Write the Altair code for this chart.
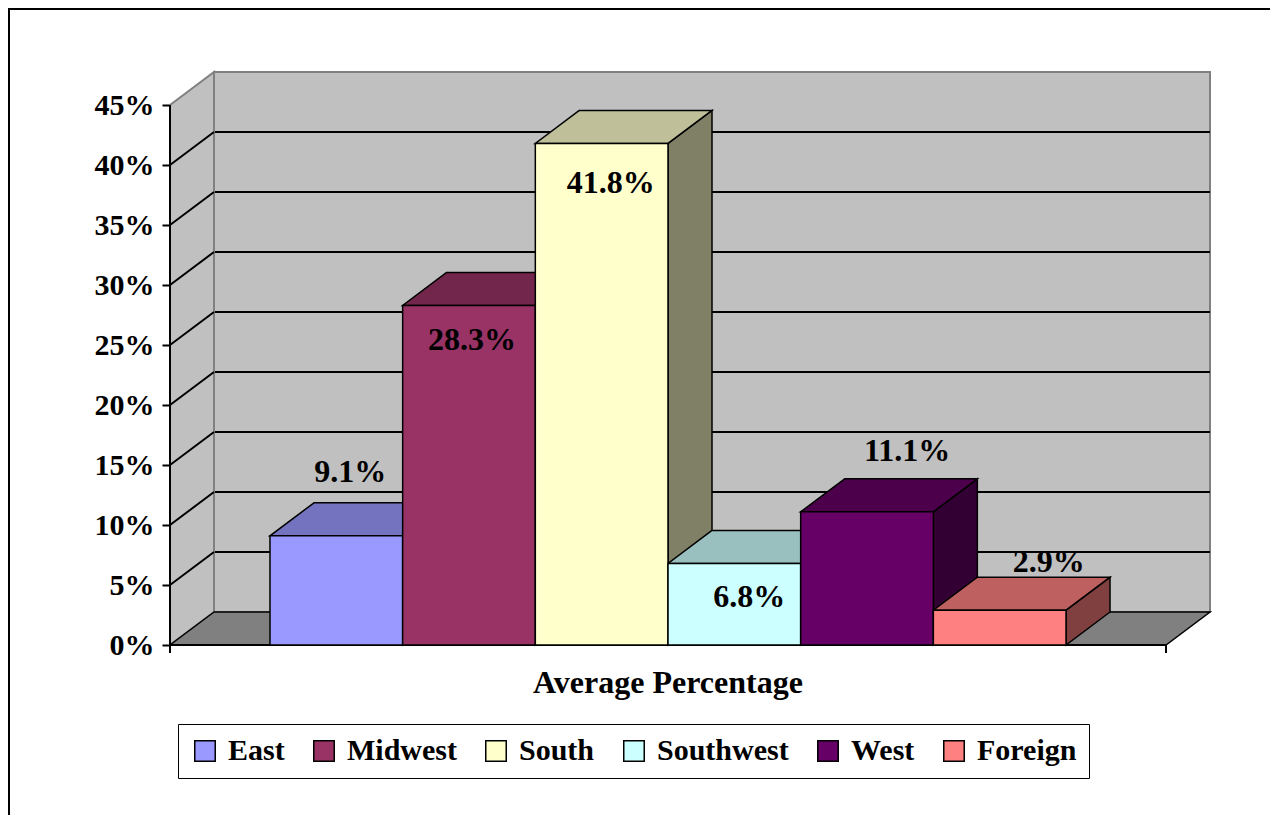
import altair as alt
import pandas as pd

# ---------------- data ----------------
regions = ["East", "Midwest", "South", "Southwest", "West", "Foreign"]
values = [9.1, 28.3, 41.8, 6.8, 11.1, 2.9]
front_colors = ["#9999FF", "#993366", "#FFFFCC", "#CCFFFF", "#660066", "#FF8080"]
tick_values = [0, 5, 10, 15, 20, 25, 30, 35, 40, 45]
axis_title = "Average Percentage"

# label placement offsets (pixels, relative to the bar's front-top centre)
label_dx_px = [14, 3, 9, 15, 40, 49]
label_dy_px = [-64, 35, 40, 34, -61, -48]

# ---------------- geometry / style ----------------
FONT = "Liberation Serif"
PX_X = 132.7          # pixels per bar slot
PX_Y = 12.0           # pixels per percent
DEPTH_PX_X, DEPTH_PX_Y = 44, 33
GAP_PX = 100
DX = DEPTH_PX_X / PX_X
DY = DEPTH_PX_Y / PX_Y
XMIN = -GAP_PX / PX_X
XFR = len(regions) + GAP_PX / PX_X
XMAX = XFR + DX
YTOP = tick_values[-1]
YMAX = YTOP + DY
W = round((XMAX - XMIN) * PX_X)
H = round(YMAX * PX_Y)


def shade(hx, f):
    hx = hx.lstrip("#")
    r, g, b = (int(hx[i:i + 2], 16) for i in (0, 2, 4))
    return "#%02X%02X%02X" % tuple(int(round(c * f)) for c in (r, g, b))


xs = alt.Scale(domain=[XMIN, XMAX], nice=False, zero=False)
ys = alt.Scale(domain=[0, YMAX], nice=False, zero=False)


def X(f="x"):
    return alt.X(f + ":Q", scale=xs, axis=None)


def Y(f="y"):
    return alt.Y(f + ":Q", scale=ys, axis=None)


one = pd.DataFrame({"a": [0]})

# outer frame
frame = alt.Chart(one).mark_rect(filled=False, stroke="black", strokeWidth=2).encode(
    x=alt.value(-161), x2=alt.value(W + 300), y=alt.value(-63), y2=alt.value(H + 400)
)

# back wall (carries the y axis)
back_df = pd.DataFrame({"x": [XMIN + DX], "x2": [XMAX], "y": [DY], "y2": [YMAX]})
back = alt.Chart(back_df).mark_rect(fill="#C0C0C0", stroke="#808080", strokeWidth=2).encode(
    x=X(), x2="x2:Q",
    y=alt.Y("y:Q", scale=ys, axis=alt.Axis(
        values=tick_values, labelExpr="datum.value + '%'", domain=False, grid=False,
        ticks=True, tickSize=8, tickWidth=2, tickColor="black",
        labelFont=FONT, labelFontSize=30, labelFontWeight="bold", labelColor="black",
        labelPadding=8, title=None)),
    y2="y2:Q",
)

inner = tick_values[1:-1]
bgrid_df = pd.DataFrame({"y": [v + DY for v in inner], "x": XMIN + DX, "x2": XMAX})
bgrid = alt.Chart(bgrid_df).mark_rule(color="black", strokeWidth=2).encode(x=X(), x2="x2:Q", y=Y())

left_df = pd.DataFrame({"x": [XMIN, XMIN + DX], "y": [YTOP, YMAX], "y2": [0, DY]})
left = alt.Chart(left_df).mark_area(fill="#C0C0C0", stroke="#808080", strokeWidth=2).encode(
    x=X(), y=Y(), y2="y2:Q"
)
lgrid_df = pd.DataFrame({"y": inner, "y2": [v + DY for v in inner], "x": XMIN, "x2": XMIN + DX})
lgrid = alt.Chart(lgrid_df).mark_rule(color="black", strokeWidth=2).encode(
    x=X(), x2="x2:Q", y=Y(), y2="y2:Q"
)

floor_df = pd.DataFrame({"y": [0, DY], "x": [XMIN, XMIN + DX], "x2": [XFR, XMAX]})
floor = alt.Chart(floor_df).mark_area(orient="horizontal", fill="#808080", stroke="black",
                                      strokeWidth=1.5).encode(
    y=Y(), x=X(), x2="x2:Q"
)

yline = alt.Chart(pd.DataFrame({"x": [XMIN], "y": [0], "y2": [YTOP]})).mark_rule(
    color="black", strokeWidth=2).encode(x=X(), y=Y(), y2="y2:Q")
xline = alt.Chart(pd.DataFrame({"x": [XMIN], "x2": [XFR], "y": [0]})).mark_rule(
    color="black", strokeWidth=2).encode(x=X(), x2="x2:Q", y=Y())
xticks = alt.Chart(pd.DataFrame({"x": [XMIN, XFR], "y": [0, 0]})).mark_rule(
    color="black", strokeWidth=2).encode(x=X(), y=Y(), y2=alt.value(H + 8))

# bars
side_rows, top_rows, front_rows, label_rows = [], [], [], []
for i, (r, v, c) in enumerate(zip(regions, values, front_colors)):
    sc, tc = shade(c, 0.5), shade(c, 0.75)
    side_rows += [
        {"region": r, "x": i + 1, "y": v, "y2": 0, "col": sc},
        {"region": r, "x": i + 1 + DX, "y": v + DY, "y2": DY, "col": sc},
    ]
    top_rows += [
        {"region": r, "y": v, "x": i, "x2": i + 1, "col": tc},
        {"region": r, "y": v + DY, "x": i + DX, "x2": i + 1 + DX, "col": tc},
    ]
    front_rows.append({"region": r, "x": i, "x2": i + 1, "y": 0, "y2": v})
    label_rows.append({"x": i + 0.5 + label_dx_px[i] / PX_X,
                       "y": v - label_dy_px[i] / PX_Y,
                       "t": f"{v}%"})

sides = alt.Chart(pd.DataFrame(side_rows)).mark_area(stroke="black", strokeWidth=1.5).encode(
    x=X(), y=Y(), y2="y2:Q", detail="region:N", fill=alt.Fill("col:N", scale=None)
)
tops = alt.Chart(pd.DataFrame(top_rows)).mark_area(orient="horizontal", stroke="black",
                                                   strokeWidth=1.5).encode(
    y=Y(), x=X(), x2="x2:Q", detail="region:N", fill=alt.Fill("col:N", scale=None)
)
fronts = alt.Chart(pd.DataFrame(front_rows)).mark_rect(stroke="black", strokeWidth=1.5).encode(
    x=X(), x2="x2:Q", y=Y(), y2="y2:Q",
    fill=alt.Fill("region:N", sort=regions,
                  scale=alt.Scale(domain=regions, range=front_colors),
                  legend=alt.Legend(
                      title=None, orient="none", legendX=8, legendY=652,
                      direction="horizontal", symbolType="square", symbolSize=420,
                      symbolStrokeColor="black", symbolStrokeWidth=1.5,
                      labelFont=FONT, labelFontSize=30, labelFontWeight="bold",
                      labelColor="black", labelOffset=8, columnPadding=24,
                      fillColor="white", strokeColor="black", padding=12)),
)

labels = alt.Chart(pd.DataFrame(label_rows)).mark_text(
    font=FONT, fontSize=32, fontWeight="bold", color="black", align="center", baseline="middle"
).encode(x=X(), y=Y(), text="t:N")

title = alt.Chart(pd.DataFrame({"x": [(XMIN + XFR) / 2], "t": [axis_title]})).mark_text(
    font=FONT, fontSize=32, fontWeight="bold", color="black", align="center", baseline="middle"
).encode(x=X(), y=alt.value(H + 38), text="t:N")

chart = alt.layer(
    frame, back, bgrid, left, lgrid, floor, yline, xline, xticks,
    sides, tops, fronts, labels, title
).resolve_scale(fill="independent").resolve_axis(x="independent", y="independent").properties(
    width=W, height=H,
    padding={"left": 162, "top": 64, "right": 60, "bottom": 170},
    autosize="none",
).configure_view(strokeWidth=0)

chart.save("out.html", embed_options={"renderer": "svg", "actions": False})
